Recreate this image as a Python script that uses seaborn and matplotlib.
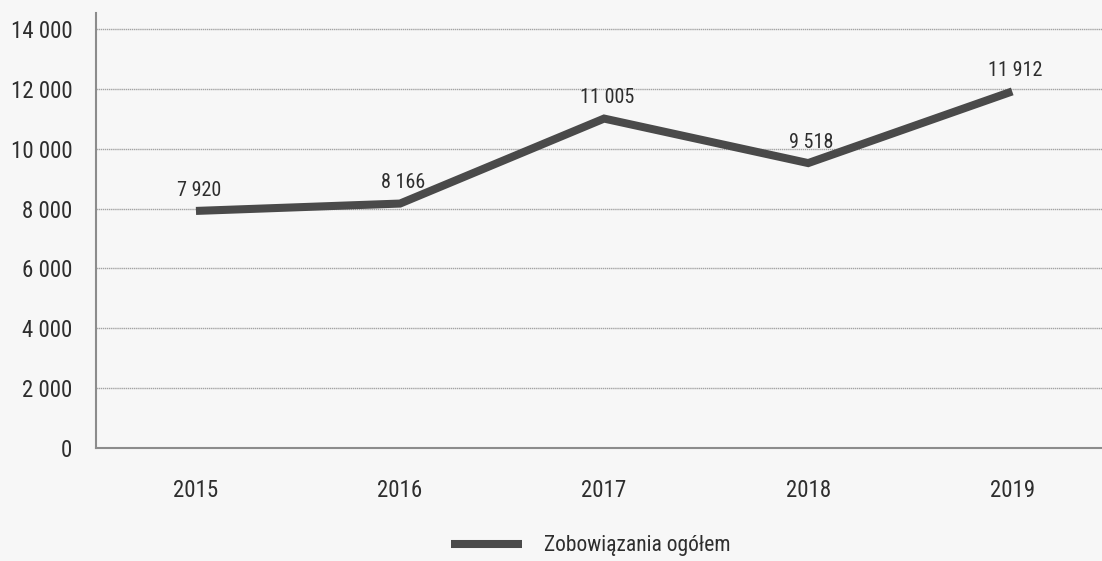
import matplotlib
matplotlib.use("Agg")
import matplotlib.pyplot as plt
import matplotlib.font_manager as fm
import seaborn as sns
import pandas as pd

years = ["2015", "2016", "2017", "2018", "2019"]
values = [7920, 8166, 11005, 9518, 11912]
series_name = "Zobowiązania ogółem"
y_ticks = [0, 2000, 4000, 6000, 8000, 10000, 12000, 14000]

sns.set_theme(style="white")

# Prefer a narrow sans family for the labels; fall back to Roboto.
fonts = fm.fontManager.ttflist
names = {f.name for f in fonts}
family, stretch, size = "Roboto", "normal", 15
for cand in ["Roboto Condensed", "Liberation Sans Narrow", "Open Sans Condensed",
             "DejaVu Sans Condensed", "Noto Sans Condensed"]:
    if cand in names:
        family, stretch, size = cand, "normal", 16.5
        break
else:
    narrow = [f for f in fonts if f.stretch in ("condensed", "semi-condensed",
                                                "extra-condensed")]
    if narrow:
        family, stretch, size = narrow[0].name, narrow[0].stretch, 16.5
plt.rcParams["font.family"] = [family, "DejaVu Sans"]
plt.rcParams["font.stretch"] = stretch

bg = "#f7f7f7"
line_color = "#4a4a4a"
text_color = "#2e2e2e"

df = pd.DataFrame({"Rok": years, "Wartość": values, "Seria": series_name})

fig = plt.figure(figsize=(11.02, 5.61), dpi=100, facecolor=bg)
ax = fig.add_axes([0.0871, 0.2014, 0.9129, 0.7756])
ax.set_facecolor(bg)

sns.lineplot(data=df, x="Rok", y="Wartość", hue="Seria", palette=[line_color],
             linewidth=5.8, sort=False, ax=ax, legend=False)
for ln in ax.get_lines():
    ln.set_solid_capstyle("butt")
    ln.set_solid_joinstyle("miter")

ax.set_xlim(-0.49, 4.44)
ax.set_ylim(0, 14535)
ax.set_yticks(y_ticks)
ax.set_yticklabels([f"{v:,}".replace(",", " ") for v in y_ticks])
ax.set_xlabel("")
ax.set_ylabel("")

ax.grid(axis="y", color="#a3a3a3", linewidth=1.0, linestyle=(0, (1, 0.5)))
ax.grid(axis="x", visible=False)
ax.set_axisbelow(True)

for side in ["top", "right"]:
    ax.spines[side].set_visible(False)
for side in ["left", "bottom"]:
    ax.spines[side].set_color("#8c8c8c")
    ax.spines[side].set_linewidth(1.5)

ax.tick_params(axis="y", length=0, pad=17, labelsize=size, labelcolor=text_color)
ax.tick_params(axis="x", length=0, pad=22, labelsize=size, labelcolor=text_color)

for i, v in enumerate(values):
    ax.annotate(f"{v:,}".replace(",", " "), (i, v), xytext=(2, 8),
                textcoords="offset points", ha="center", va="bottom",
                fontsize=size - 2, color=text_color)

handle = plt.Line2D([], [], color=line_color, linewidth=5.8, solid_capstyle="butt")
fig.legend([handle], [series_name], loc="center", bbox_to_anchor=(0.536, 0.027),
           frameon=False, fontsize=size - 1, handlelength=3.3, handletextpad=1.0,
           labelcolor=text_color, borderpad=0)

fig.savefig("out.png", dpi=100, facecolor=bg)
